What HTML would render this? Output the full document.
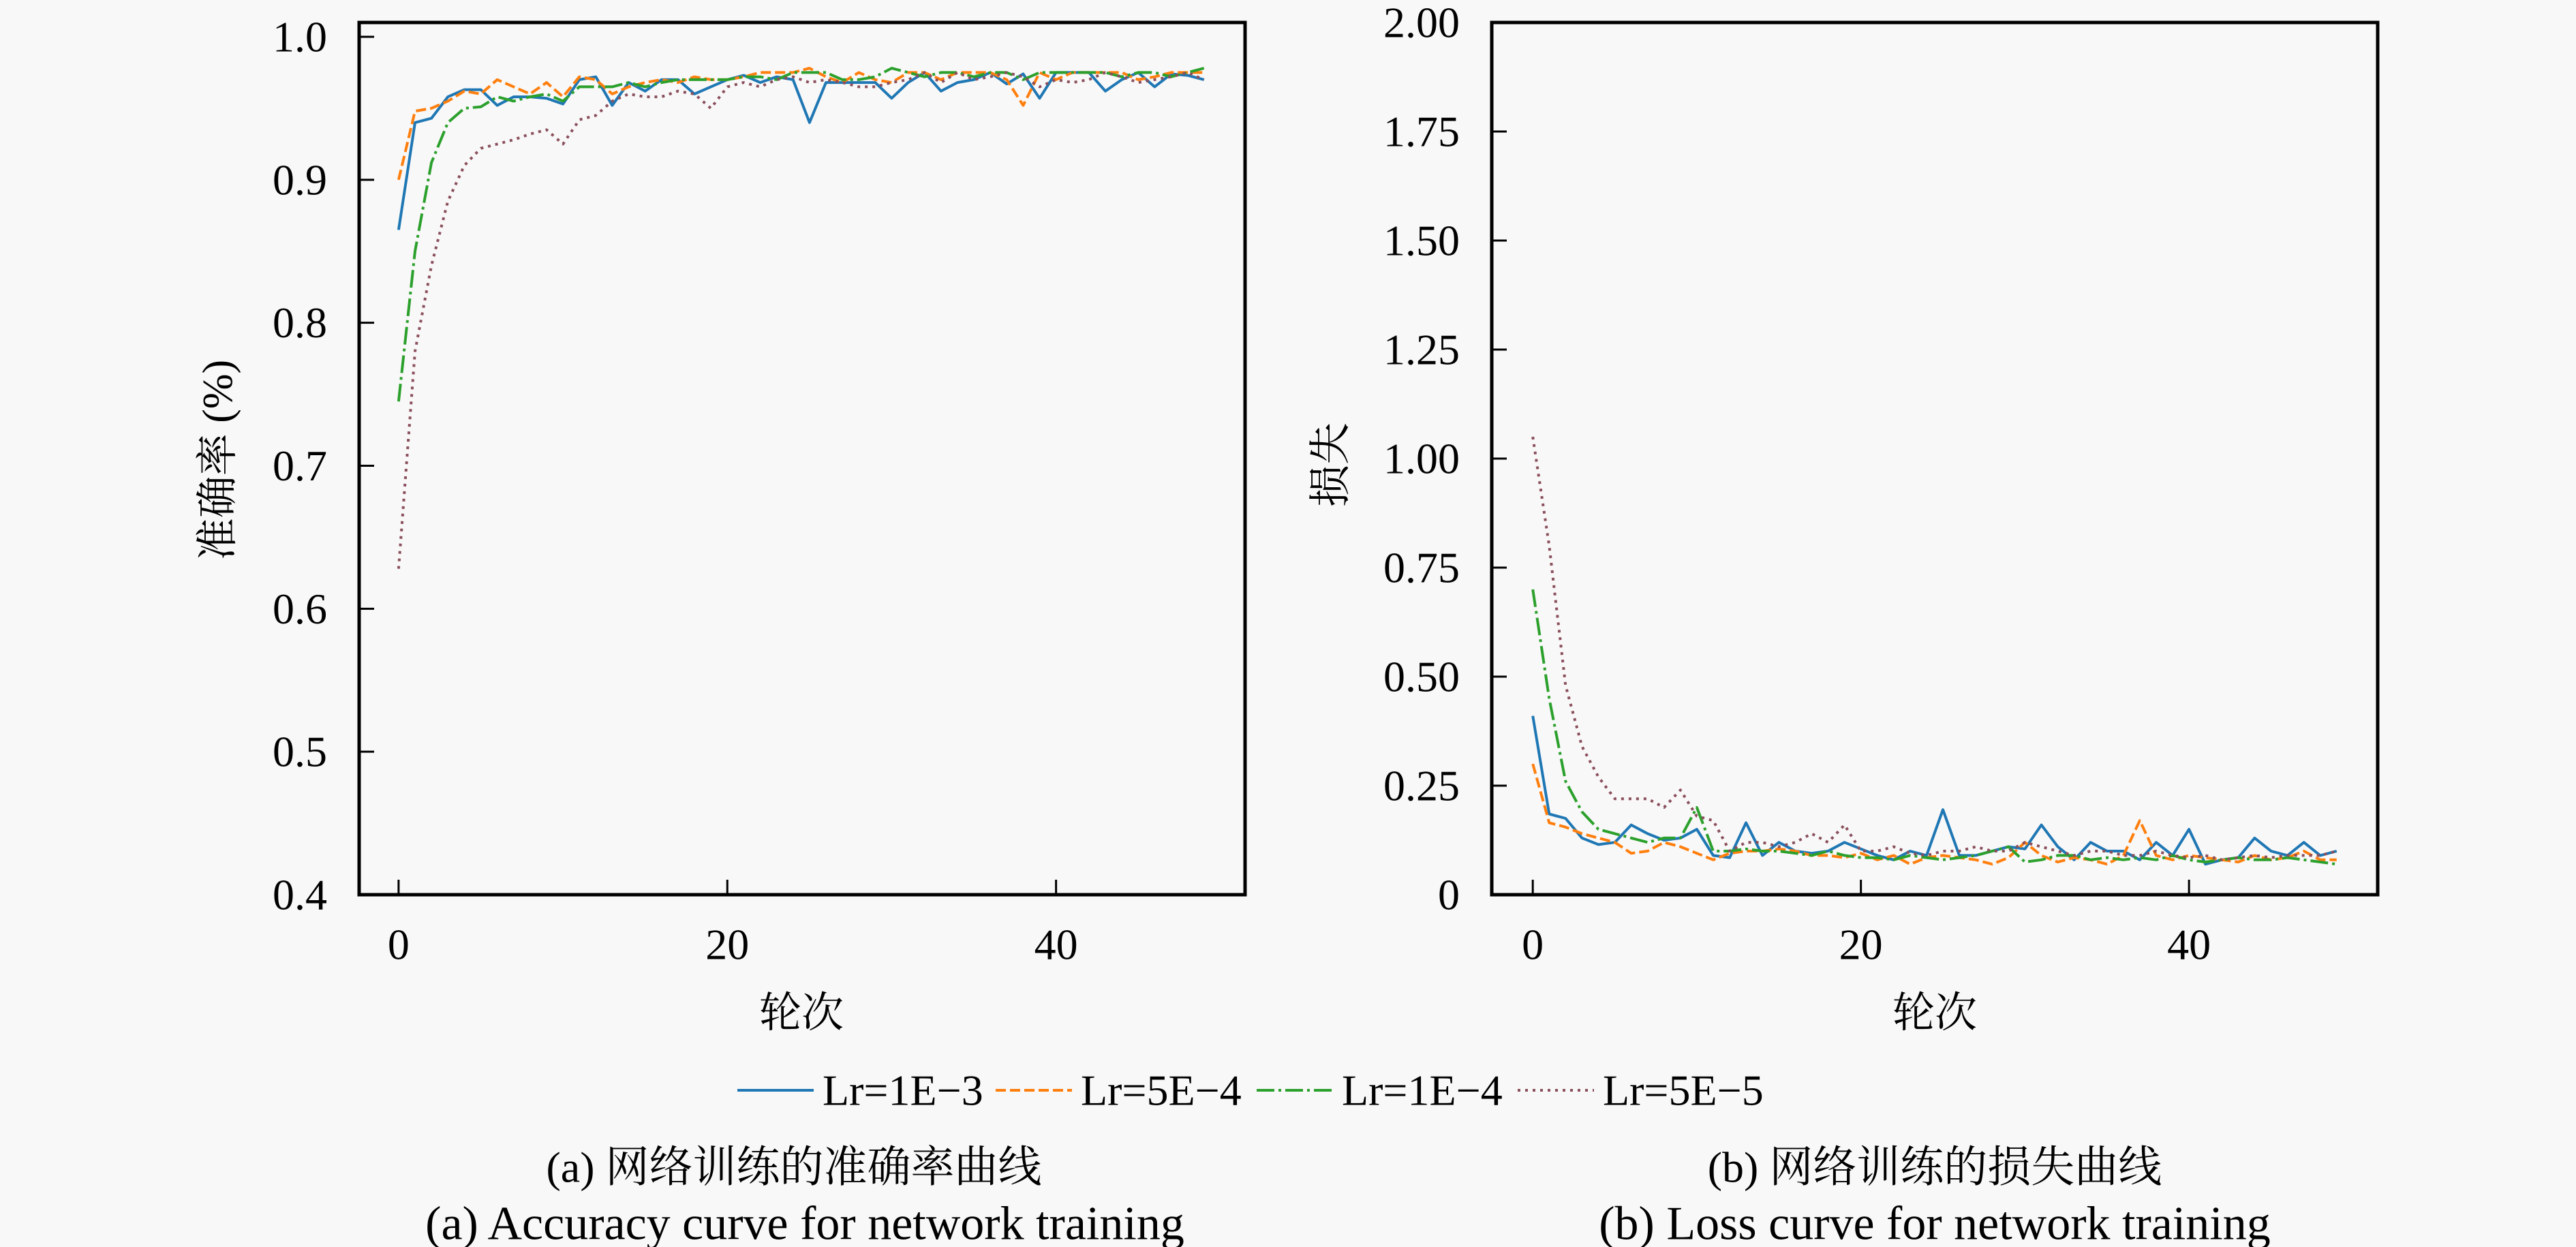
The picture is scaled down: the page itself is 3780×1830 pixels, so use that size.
<!DOCTYPE html>
<html><head><meta charset="utf-8"><style>
html,body{margin:0;padding:0;background:#f8f8f8;}
svg{display:block;}
text{font-family:"Liberation Serif","Noto Serif CJK SC",serif;fill:#000;}
</style></head><body>
<svg id="fig" width="3780" height="1830" viewBox="0 0 3780 1830" xmlns="http://www.w3.org/2000/svg">
<rect width="3780" height="1830" fill="#f8f8f8"/>
<g id="accChart"></g>
<g id="lossChart"></g>
<text x="320" y="675" font-size="62" text-anchor="middle" dominant-baseline="central" transform="rotate(-90 320 675)">准确率 (%)</text>
<text x="1953" y="682" font-size="62" text-anchor="middle" dominant-baseline="central" transform="rotate(-90 1953 682)">损失</text>
<text x="1176" y="1487" font-size="62" text-anchor="middle" dominant-baseline="central">轮次</text>
<text x="2839" y="1487" font-size="62" text-anchor="middle" dominant-baseline="central">轮次</text>
<g id="legend"></g>
<text x="1165" y="1713" font-size="64" text-anchor="middle" dominant-baseline="central">(a) 网络训练的准确率曲线</text>
<text x="1181" y="1796" font-size="70" text-anchor="middle" dominant-baseline="central">(a) Accuracy curve for network training</text>
<text x="2839" y="1713" font-size="64" text-anchor="middle" dominant-baseline="central">(b) 网络训练的损失曲线</text>
<text x="2839" y="1796" font-size="70" text-anchor="middle" dominant-baseline="central">(b) Loss curve for network training</text>
</svg>
<script>
const seriesNames = ["Lr=1E\u22123","Lr=5E\u22124","Lr=1E\u22124","Lr=5E\u22125"];
const accLr1e3 = [.865,.94,.943,.958,.963,.963,.952,.958,.958,.957,.953,.97,.972,.952,.968,.962,.97,.97,.96,.965,.97,.973,.968,.972,.97,.94,.968,.968,.968,.968,.957,.968,.975,.962,.968,.97,.975,.967,.974,.957,.975,.975,.975,.962,.97,.975,.965,.974,.973,.97];
const accLr5e4 = [.9,.948,.95,.955,.962,.96,.97,.965,.96,.968,.958,.972,.97,.96,.965,.968,.97,.968,.972,.97,.97,.972,.975,.975,.975,.978,.972,.968,.975,.97,.968,.975,.975,.97,.975,.975,.975,.97,.952,.975,.97,.975,.975,.975,.975,.97,.972,.975,.975,.975];
const accLr1e4 = [.745,.85,.912,.94,.95,.951,.958,.955,.958,.96,.955,.965,.965,.965,.968,.965,.968,.97,.97,.97,.97,.972,.972,.97,.975,.975,.975,.97,.97,.972,.978,.975,.972,.975,.975,.972,.975,.975,.97,.975,.975,.975,.975,.975,.972,.975,.975,.972,.975,.978];
const accLr5e5 = [.628,.78,.84,.885,.91,.922,.925,.928,.932,.935,.925,.942,.945,.955,.96,.958,.958,.962,.96,.95,.965,.968,.965,.97,.972,.968,.97,.968,.965,.965,.968,.97,.975,.968,.975,.97,.972,.975,.972,.965,.97,.968,.97,.975,.972,.968,.97,.972,.975,.97];
const lossLr1e3 = [.41,.185,.175,.13,.115,.12,.16,.14,.125,.13,.15,.09,.085,.165,.09,.12,.1,.095,.1,.12,.105,.09,.08,.1,.09,.195,.09,.09,.1,.11,.105,.16,.11,.08,.12,.1,.1,.08,.12,.09,.15,.07,.08,.085,.13,.1,.09,.12,.09,.1];
const lossLr5e4 = [.3,.165,.155,.14,.13,.12,.095,.1,.12,.11,.095,.08,.095,.1,.1,.105,.1,.09,.09,.085,.095,.08,.09,.07,.085,.09,.085,.08,.07,.085,.12,.09,.075,.085,.08,.07,.09,.17,.09,.08,.09,.085,.08,.075,.09,.08,.085,.1,.08,.08];
const lossLr1e4 = [.7,.45,.26,.19,.15,.14,.13,.12,.13,.13,.2,.1,.1,.105,.1,.1,.095,.09,.1,.09,.085,.085,.08,.09,.085,.08,.085,.09,.1,.11,.075,.08,.09,.09,.08,.085,.08,.085,.08,.09,.08,.075,.08,.085,.08,.08,.085,.08,.075,.07];
const lossLr5e5 = [1.05,.8,.48,.34,.27,.22,.22,.22,.2,.24,.18,.17,.1,.12,.12,.11,.12,.14,.12,.16,.1,.1,.11,.095,.09,.1,.1,.11,.1,.1,.12,.11,.1,.09,.1,.1,.09,.09,.1,.09,.085,.09,.08,.085,.09,.085,.09,.09,.09,.1];
const xTicks = [0,20,40];
const accYTicks = [0.4,0.5,0.6,0.7,0.8,0.9,1.0];
const accYLabels = ["0.4","0.5","0.6","0.7","0.8","0.9","1.0"];
const lossYTicks = [0,0.25,0.5,0.75,1.0,1.25,1.5,1.75,2.0];
const lossYLabels = ["0","0.25","0.50","0.75","1.00","1.25","1.50","1.75","2.00"];

const NS = "http://www.w3.org/2000/svg";
const styles = [
  {c:"#1f77b4", d:""},
  {c:"#ff7f0e", d:"15 6"},
  {c:"#2ca02c", d:"26 6 4 6"},
  {c:"#8a4f5c", d:"4 7"}
];
function mk(tag, attrs, parent){
  const e = document.createElementNS(NS, tag);
  for (const k in attrs) e.setAttribute(k, attrs[k]);
  parent.appendChild(e);
  return e;
}
function drawChart(g, box, xmin, xmax, ymin, ymax, yTicks, yLabels, series, prefix){
  const sx = v => box.l + (v - xmin) / (xmax - xmin) * (box.r - box.l);
  const sy = v => box.b - (v - ymin) / (ymax - ymin) * (box.b - box.t);
  const clip = mk("clipPath", {id: prefix + "clip"}, g);
  mk("rect", {x: box.l, y: box.t, width: box.r - box.l, height: box.b - box.t}, clip);
  series.forEach((arr, i) => {
    const pts = arr.map((v, k) => sx(k).toFixed(1) + "," + sy(v).toFixed(1)).join(" ");
    const pl = mk("polyline", {points: pts, fill: "none", stroke: styles[i].c, "stroke-width": 4, "stroke-dasharray": styles[i].d, "stroke-linejoin": "round", "clip-path": "url(#" + prefix + "clip)"}, g);
    
    
  });
  xTicks.forEach(t => {
    const x = sx(t);
    const tk = mk("line", {x1: x, x2: x, y1: box.b, y2: box.b - 22, stroke: "#000", "stroke-width": 3}, g);
    
    
    const tx = mk("text", {x: x, y: box.b + 73, "font-size": 64, "text-anchor": "middle", "dominant-baseline": "central"}, g);
    tx.textContent = t;
    
    
  });
  yTicks.forEach((t, i) => {
    const y = sy(t);
    const tk = mk("line", {x1: box.l, x2: box.l + 22, y1: y, y2: y, stroke: "#000", "stroke-width": 3}, g);
    
    
    const tx = mk("text", {x: box.l - 47, y: y, "font-size": 64, "text-anchor": "end", "dominant-baseline": "central"}, g);
    tx.textContent = yLabels[i];
    
    
  });
  const fr = mk("rect", {x: box.l, y: box.t, width: box.r - box.l, height: box.b - box.t, fill: "none", stroke: "#000", "stroke-width": 5}, g);
  
  
}
drawChart(document.getElementById("accChart"), {l:527, r:1827, t:33, b:1313}, -2.4, 51.5, 0.4, 1.01, accYTicks, accYLabels, [accLr1e3, accLr5e4, accLr1e4, accLr5e5], "acc");
drawChart(document.getElementById("lossChart"), {l:2189, r:3489, t:33, b:1313}, -2.5, 51.5, 0, 2.0, lossYTicks, lossYLabels, [lossLr1e3, lossLr5e4, lossLr1e4, lossLr5e5], "loss");

const lg = document.getElementById("legend");
const lineX = [1082, 1461, 1844, 2227];
seriesNames.forEach((n, i) => {
  const ln = mk("line", {x1: lineX[i], x2: lineX[i] + 112, y1: 1600, y2: 1600, stroke: styles[i].c, "stroke-width": 4, "stroke-dasharray": styles[i].d}, lg);
  
  
  const tx = mk("text", {x: lineX[i] + 125, y: 1600, "font-size": 64, "dominant-baseline": "central"}, lg);
  tx.textContent = n;
  
  
});
</script>
</body></html>
